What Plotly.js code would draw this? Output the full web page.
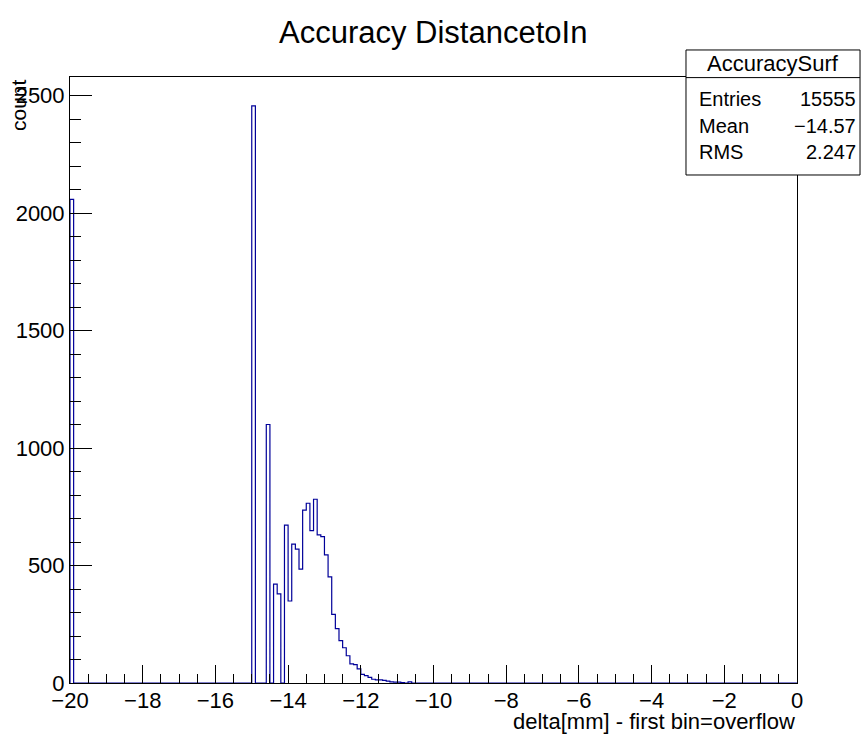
<!DOCTYPE html>
<html>
<head>
<meta charset="utf-8">
<script src="https://cdn.plot.ly/plotly-3.0.1.min.js"></script>
<style>html,body{margin:0;padding:0;background:#fff;}#chart{width:863px;height:737px;}</style>
</head>
<body>
<div id="chart"></div>
<script>
// Histogram definition: 200 bins of width 0.1 from -20 to 0 (first bin = overflow)
const xMin = -20;
const xMax = 0;
const binWidth = 0.1;

// Low edges of the non-empty bins and their counts
const binLow = [-20.0, -15.0, -14.6, -14.4, -14.3, -14.1, -14.0, -13.9, -13.8, -13.7,
                -13.6, -13.5, -13.4, -13.3, -13.2, -13.1, -13.0, -12.9, -12.8, -12.7,
                -12.6, -12.5, -12.4, -12.3, -12.2, -12.1, -12.0, -11.9, -11.8, -11.7,
                -11.6, -11.5, -11.4, -11.3, -11.2, -11.1, -11.0, -10.9, -10.7];
const counts = [2058, 2456, 1100, 421, 379, 672, 349, 591, 570, 485,
                736, 765, 648, 782, 630, 623, 545, 452, 292, 231,
                180, 150, 116, 81, 78, 60, 37, 31, 24, 16,
                13, 13, 11, 8, 5, 4, 4, 2, 5];

const xTickVals = [-20, -18, -16, -14, -12, -10, -8, -6, -4, -2, 0];
const yTickVals = [0, 500, 1000, 1500, 2000, 2500];

const titleText = "Accuracy DistancetoIn";
const xTitle = "delta[mm] - first bin=overflow";
const yTitle = "count";
const statsName = "AccuracySurf";
const statsLabels = ["Entries", "Mean", "RMS"];
const statsValues = ["15555", "\u221214.57", "2.247"];

// Build full bin contents
const nBins = Math.round((xMax - xMin) / binWidth);
const full = new Array(nBins).fill(0);
binLow.forEach((x, i) => { full[Math.round((x - xMin) / binWidth)] = counts[i]; });
const xs = [xMin], ys = [0];
for (let i = 0; i < nBins; i++) {
  xs.push(+(xMin + i * binWidth).toFixed(2));
  ys.push(full[i]);
}
xs.push(xMax); ys.push(0);

const FONT = "Liberation Sans, Arial, Helvetica, sans-serif";
const yMaxRange = Math.max(...counts) * 1.05;

const trace = {
  type: "scatter", mode: "lines", x: xs, y: ys,
  line: {shape: "hv", color: "#000099", width: 1.2},
  hoverinfo: "skip", showlegend: false
};

// Stats box geometry in paper coordinates
const bx0 = 0.8473, bx1 = 1.0867, by0 = 0.8383, by1 = 1.0446, byh = 0.999;
const rowY = [0.9636, 0.9195, 0.8762];

const annotations = [
  {text: xTitle, xref: "paper", yref: "paper", x: 1.0, y: -0.039, xanchor: "right", yanchor: "top",
   showarrow: false, font: {family: FONT, size: 22, color: "#000"}},
  {text: yTitle, xref: "paper", yref: "paper", x: -0.0715, y: 1.0, xanchor: "center", yanchor: "top",
   textangle: -90, showarrow: false, font: {family: FONT, size: 21, color: "#000"}},
  {text: statsName, xref: "paper", yref: "paper", x: (bx0 + bx1) / 2, y: (by1 + byh) / 2,
   xanchor: "center", yanchor: "middle", showarrow: false, font: {family: FONT, size: 22, color: "#000"}}
];
statsLabels.forEach((lab, i) => {
  annotations.push({text: lab, xref: "paper", yref: "paper", x: 0.862, y: rowY[i], xanchor: "left", yanchor: "middle",
    showarrow: false, font: {family: FONT, size: 20, color: "#000"}});
  annotations.push({text: statsValues[i], xref: "paper", yref: "paper", x: 1.084, y: rowY[i], xanchor: "right", yanchor: "middle",
    showarrow: false, font: {family: FONT, size: 20, color: "#000"}});
});

const layout = {
  width: 863, height: 737,
  margin: {l: 70, r: 66, t: 77, b: 54, pad: 0},
  paper_bgcolor: "#fff", plot_bgcolor: "#fff",
  showlegend: false,
  title: {text: titleText, x: 0.502, xanchor: "center", y: 0.956, yanchor: "middle",
          font: {family: FONT, size: 31, color: "#000"}},
  xaxis: {
    range: [xMin, xMax], showgrid: false, zeroline: false,
    showline: true, linecolor: "#000", linewidth: 1, mirror: true,
    ticks: "inside", ticklen: 18, tickcolor: "#000", tickwidth: 1,
    ticklabelstandoff: -2,
    tickvals: xTickVals, tickfont: {family: FONT, size: 22, color: "#000"},
    minor: {dtick: 0.5, ticks: "inside", ticklen: 9, tickcolor: "#000", tickwidth: 1, showgrid: false}
  },
  yaxis: {
    range: [0, yMaxRange], showgrid: false, zeroline: false,
    showline: true, linecolor: "#000", linewidth: 1, mirror: true,
    ticks: "inside", ticklen: 22, tickcolor: "#000", tickwidth: 1,
    tickvals: yTickVals, tickfont: {family: FONT, size: 22, color: "#000"},
    minor: {dtick: 100, ticks: "inside", ticklen: 11, tickcolor: "#000", tickwidth: 1, showgrid: false}
  },
  shapes: [
    {type: "rect", xref: "paper", yref: "paper", x0: bx0, x1: bx1, y0: by0, y1: by1,
     fillcolor: "#fff", line: {color: "#000", width: 1}, layer: "above"},
    {type: "line", xref: "paper", yref: "paper", x0: bx0, x1: bx1, y0: byh, y1: byh,
     line: {color: "#000", width: 1}, layer: "above"}
  ],
  annotations: annotations
};

Plotly.newPlot("chart", [trace], layout, {staticPlot: true, displayModeBar: false});
</script>
</body>
</html>
